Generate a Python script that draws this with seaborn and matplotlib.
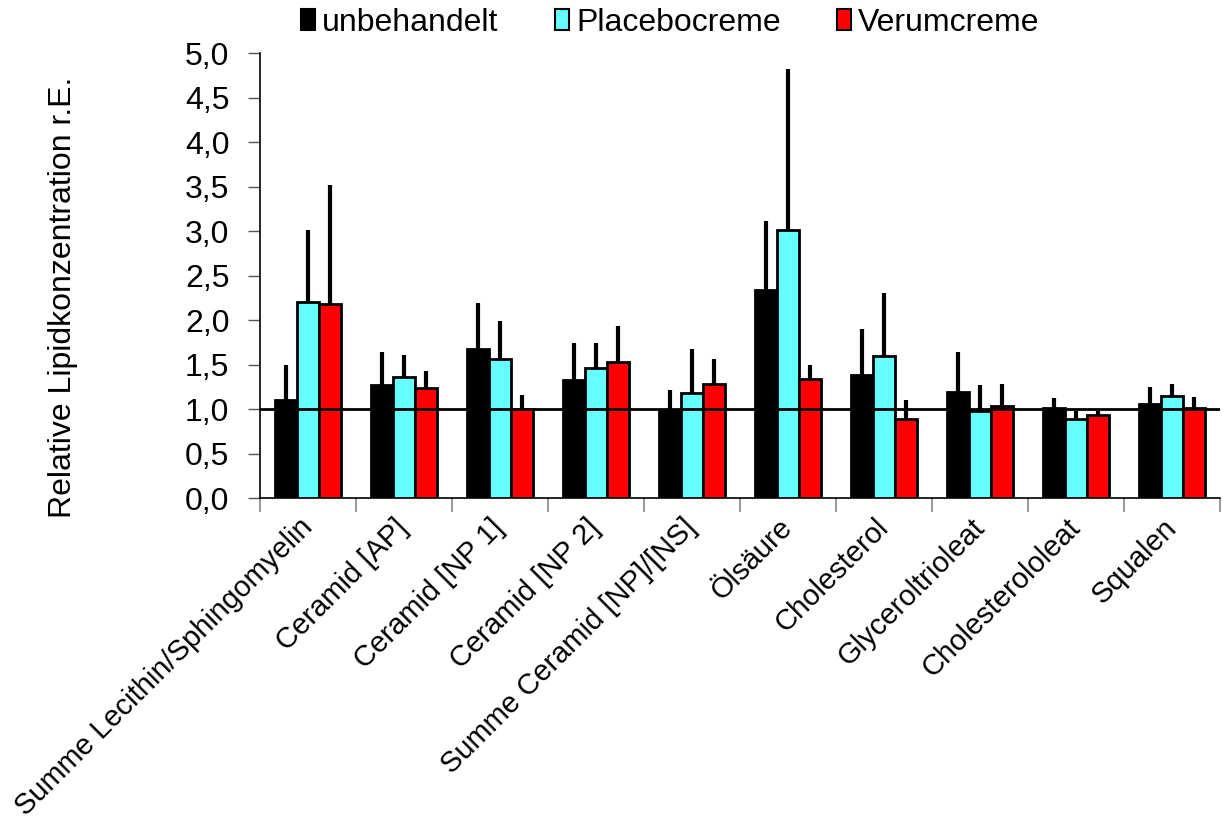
import numpy as np
import pandas as pd
import matplotlib
matplotlib.use("Agg")
import matplotlib.pyplot as plt
import seaborn as sns
from matplotlib.patches import Patch

categories = ["Summe Lecithin/Sphingomyelin", "Ceramid [AP]", "Ceramid [NP 1]",
              "Ceramid [NP 2]", "Summe Ceramid [NP]/[NS]", "Ölsäure", "Cholesterol",
              "Glyceroltrioleat", "Cholesterololeat", "Squalen"]
series_names = ["unbehandelt", "Placebocreme", "Verumcreme"]

unbehandelt = [1.11, 1.27, 1.68, 1.33, 0.98, 2.34, 1.39, 1.20, 1.01, 1.06]
unbehandelt_err = [0.39, 0.37, 0.52, 0.41, 0.24, 0.78, 0.51, 0.44, 0.12, 0.19]
placebo = [2.21, 1.36, 1.57, 1.46, 1.18, 3.02, 1.60, 0.98, 0.89, 1.15]
placebo_err = [0.80, 0.25, 0.42, 0.28, 0.50, 1.80, 0.71, 0.29, 0.09, 0.13]
verum = [2.18, 1.24, 1.00, 1.53, 1.28, 1.34, 0.89, 1.04, 0.94, 1.01]
verum_err = [1.34, 0.19, 0.16, 0.41, 0.28, 0.16, 0.22, 0.24, 0.04, 0.13]

y_ticks = [0.0, 0.5, 1.0, 1.5, 2.0, 2.5, 3.0, 3.5, 4.0, 4.5, 5.0]
y_tick_labels = ["0,0", "0,5", "1,0", "1,5", "2,0", "2,5", "3,0", "3,5", "4,0", "4,5", "5,0"]
reference_line = 1.0

colors = ["#000000", "#66FFFF", "#FF0000"]

sns.set_style("white")
plt.rcParams["font.family"] = ["Liberation Sans", "DejaVu Sans"]
plt.rcParams["text.color"] = "black"
plt.rcParams["axes.labelcolor"] = "black"

df = pd.DataFrame({
    "Lipid": categories * 3,
    "Gruppe": [series_names[0]] * 10 + [series_names[1]] * 10 + [series_names[2]] * 10,
    "Wert": unbehandelt + placebo + verum,
})
errs = [unbehandelt_err, placebo_err, verum_err]

fig = plt.figure(figsize=(12.23, 8.23), dpi=100)
ax = fig.add_axes([260 / 1223, 1 - 498.3 / 823, 960 / 1223, 445 / 823])

sns.barplot(data=df, x="Lipid", y="Wert", hue="Gruppe", order=categories,
            hue_order=series_names, palette=colors, width=0.69, gap=0,
            edgecolor="black", linewidth=2.0, errorbar=None, legend=False,
            saturation=1, ax=ax, zorder=3)

for cont, e in zip(ax.containers, errs):
    for p, ev in zip(cont.patches, e):
        xc = p.get_x() + p.get_width() / 2
        h = p.get_height()
        ax.vlines(xc, h, h + ev, color="black", linewidth=3, zorder=2)

ax.axhline(reference_line, color="black", linewidth=2, zorder=4)

ax.set_xlim(-0.5, len(categories) - 0.5)
ax.set_ylim(0, 5.0)
ax.set_yticks(y_ticks)
ax.set_yticklabels(y_tick_labels, fontsize=23)
ax.tick_params(axis="y", direction="out", length=9, width=1, color="#555555",
               labelcolor="black", pad=13, left=True)

ax.set_xticks(range(len(categories)))
ax.set_xticklabels(categories, rotation=45, ha="right", va="center",
                   rotation_mode="anchor", fontsize=21)
ax.tick_params(axis="x", which="major", length=0, pad=18, labelcolor="black")
ax.set_xticks(np.arange(-0.5, len(categories), 1.0), minor=True)
ax.tick_params(axis="x", which="minor", direction="out", length=10, width=1.2,
               color="#888888", bottom=True)

for s in ["top", "right"]:
    ax.spines[s].set_visible(False)
for s in ["left", "bottom"]:
    ax.spines[s].set_color("black")
    ax.spines[s].set_linewidth(1.2)

ax.set_xlabel("")
ax.set_ylabel("Relative Lipidkonzentration r.E.", fontsize=23, color="black")
ax.yaxis.set_label_coords(-0.19, 0.452)

handles = [Patch(facecolor=c, edgecolor="black", linewidth=1.5) for c in colors]
fig.legend(handles, series_names, loc="center", bbox_to_anchor=(0.548, 0.972),
           ncol=3, frameon=False, fontsize=23, handlelength=0.45, handleheight=0.62,
           handletextpad=0.22, columnspacing=1.75, borderaxespad=0, labelcolor="black")

fig.savefig("out.png", dpi=100)
